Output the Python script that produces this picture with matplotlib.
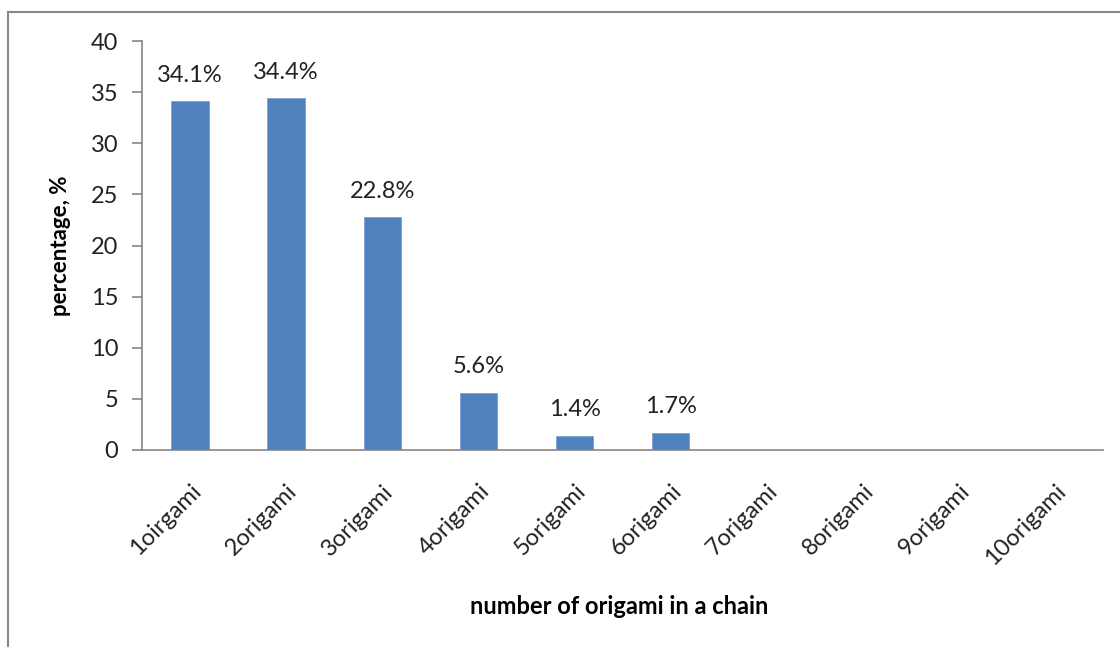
import matplotlib.pyplot as plt
from matplotlib.lines import Line2D

# origami chain length distribution
categories = ['1oirgami', '2origami', '3origami', '4origami', '5origami',
              '6origami', '7origami', '8origami', '9origami', '10origami']
percent = [34.1, 34.4, 22.8, 5.6, 1.4, 1.7, 0, 0, 0, 0]
labels = ['34.1%', '34.4%', '22.8%', '5.6%', '1.4%', '1.7%', '', '', '', '']

plt.rcParams['font.family'] = ['Lato', 'DejaVu Sans']
axis_grey = '#868686'

fig = plt.figure(figsize=(11.2, 6.47), dpi=100)
ax = fig.add_axes([0.1268, 0.3045, 0.8582, 0.6321])

x = list(range(len(categories)))
ax.bar(x, percent, width=0.39, color='#4F81BD', edgecolor='#7FA3D4', linewidth=0.6)

for xi, v, lab in zip(x, percent, labels):
    if lab:
        ax.annotate(lab, (xi, v), xytext=(0, 11), textcoords='offset points',
                    ha='center', va='bottom', fontsize=17, color='#222222')

ax.set_xlim(-0.5, len(categories) - 0.5)
ax.set_ylim(0, 40)
ax.set_yticks(range(0, 41, 5))
ax.set_xticks(x)
ax.set_xticklabels(categories, rotation=45, ha='right', rotation_mode='anchor',
                   fontsize=17, color='#222222')

for side in ['top', 'right']:
    ax.spines[side].set_visible(False)
for side in ['left', 'bottom']:
    ax.spines[side].set_color(axis_grey)
    ax.spines[side].set_linewidth(1.2)
ax.tick_params(axis='y', direction='out', length=7, width=1.2, color=axis_grey,
               labelsize=17, labelcolor='#222222', pad=10)
ax.tick_params(axis='x', length=0, pad=22)

ax.set_ylabel('percentage, %', fontsize=16, fontweight='bold', labelpad=14)
fig.text(0.553, 1 - 607 / 647, 'number of origami in a chain', ha='center', va='center',
         fontsize=17, fontweight='bold')

# chart area frame
fig.add_artist(Line2D([0.0075, 0.0075], [0, 1 - 12 / 647], color='#888888', linewidth=1.5))
fig.add_artist(Line2D([0.0075, 1.0], [1 - 12 / 647, 1 - 12 / 647], color='#888888', linewidth=1.5))

fig.savefig('out.png', dpi=100)
